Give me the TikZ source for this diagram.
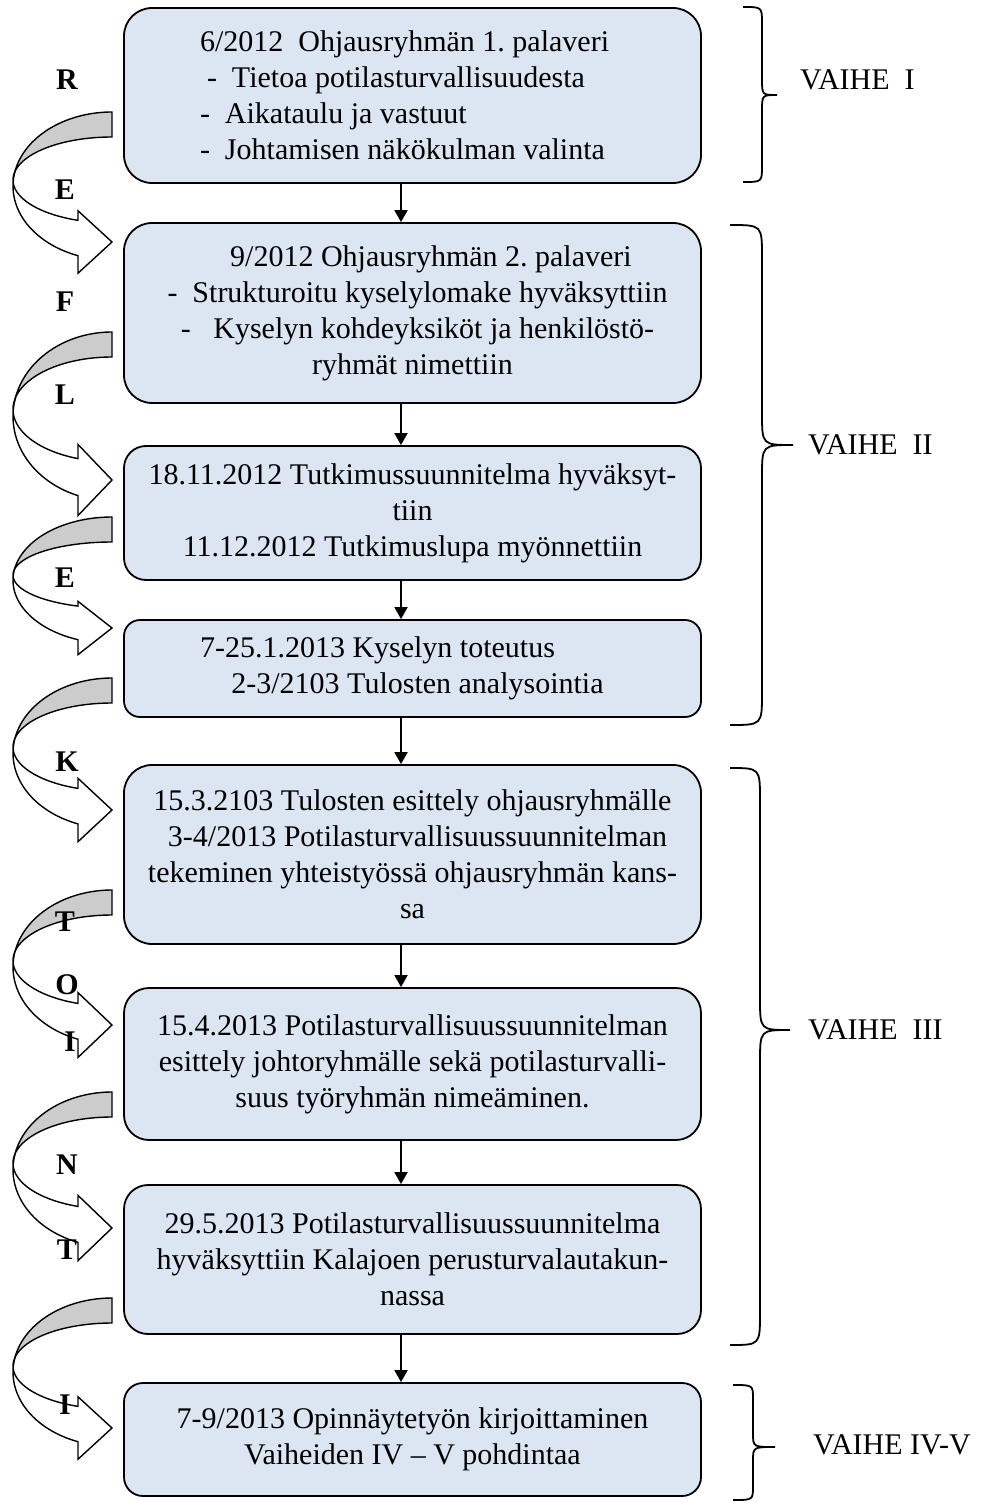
\documentclass[tikz,border=0pt]{standalone}
\usepackage{fontspec}
\setmainfont{Liberation Serif}
\usetikzlibrary{arrows.meta}
\definecolor{boxblue}{HTML}{DCE6F2}
\definecolor{arrgray}{HTML}{CCCCCC}
\newcommand{\curlarrow}[2]{%
 \pgfmathsetmacro\caYa{#1}\pgfmathsetmacro\caH{#2}%
 \pgfmathsetmacro\caRyo{0.57*\caH}%
 \pgfmathsetmacro\caCyo{\caYa+\caRyo}%
 \pgfmathsetmacro\caCyi{\caYa+0.523*\caH}%
 \pgfmathsetmacro\caRyi{\caCyi-\caYa-25}%
 \pgfmathsetmacro\caThc{180-asin((\caCyo-\caCyi)/(\caRyi-\caRyo))}%
 \pgfmathsetmacro\caThe{acos(-34/99)}%
 \pgfmathsetmacro\caHt{\caYa+0.76*\caH}%
 \pgfmathsetmacro\caHb{\caYa+1.24*\caH}%
 \pgfmathsetmacro\caTp{\caYa+\caH}%
 \filldraw[arrback] plot[domain=270:\caThc,samples=40] ({112+99*cos(\x)},{\caCyo+\caRyo*sin(\x)})
   -- plot[domain=\caThc:270,samples=40] ({112+99*cos(\x)},{\caCyi+\caRyi*sin(\x)}) -- cycle;
 \filldraw[arrfront] plot[domain=\caThc:\caThe,samples=40] ({112+99*cos(\x)},{\caCyo+\caRyo*sin(\x)})
   -- (78,\caHb) -- (112,\caTp) -- (78,\caHt)
   -- plot[domain=\caThe:\caThc,samples=40] ({112+99*cos(\x)},{\caCyi+\caRyi*sin(\x)}) -- cycle;
}
\newcommand{\mybrace}[7]{% top bottom xleft xvert xtip ytip r
 \draw[bracestyle] (#3,#1) .. controls (#4,#1) .. (#4,#1+#7) -- (#4,#6-#7)
   .. controls (#4,#6) .. (#5,#6) .. controls (#4,#6) .. (#4,#6+#7)
   -- (#4,#2-#7) .. controls (#4,#2) .. (#3,#2);
}
\begin{document}
\frenchspacing
\begin{tikzpicture}[x=1pt,y=-1pt,
  every node/.style={font=\fontsize{30}{36}\selectfont\frenchspacing, inner sep=0pt},
  box/.style={draw, fill=boxblue, line width=1.8pt, minimum width=577pt, align=center},
  conn/.style={line width=1.8pt, -{Triangle[length=12pt,width=13pt]}},
  arrback/.style={fill=arrgray, draw=black, line width=1.4pt},
  arrfront/.style={fill=white, draw=black, line width=1.4pt},
  bracestyle/.style={draw=black, line width=1.8pt},
  letter/.style={font=\fontsize{30}{36}\selectfont\bfseries},
  phase/.style={anchor=west}]
\useasboundingbox (0,0) rectangle (995,1503);
\fill[white] (0,0) rectangle (995,1503);

\node[box, minimum height=175pt, rounded corners=28pt, align=left, text width=425pt] (b1) at (412.5,95.5)
 {\spaceskip=0pt\xspaceskip=0pt 6/2012\ \ Ohjausryhmän 1. palaveri\\
  \hspace*{7pt}-\ \ Tietoa potilasturvallisuudesta\\
  -\ \ Aikataulu ja vastuut\\
  -\ \ Johtamisen näkökulman valinta};
\node[box, minimum height=180pt, rounded corners=28pt] (b2) at (412.5,313)
 {\hspace*{37pt}9/2012 Ohjausryhmän 2. palaveri\\
  \hspace*{10pt}-\ \ Strukturoitu kyselylomake hyväksyttiin\\
  \hspace*{10pt}-\ \ \ Kyselyn kohdeyksiköt ja henkilöstö-\\
  ryhmät nimettiin};
\node[box, minimum height=134pt, rounded corners=22pt] (b3) at (412.5,513)
 {18.11.2012 Tutkimussuunnitelma hyväksyt-\\ tiin\\ 11.12.2012 Tutkimuslupa myönnettiin};
\node[box, minimum height=97pt, rounded corners=16pt] (b4) at (412.5,668.5)
 {\hspace*{-70pt}7-25.1.2013 Kyselyn toteutus\\ \hspace*{10pt}2-3/2103 Tulosten analysointia};
\node[box, minimum height=179pt, rounded corners=28pt] (b5) at (412.5,854.5)
 {15.3.2103 Tulosten esittely ohjausryhmälle\\
  \hspace*{10pt}3-4/2013 Potilasturvallisuussuunnitelman\\
  tekeminen yhteistyössä ohjausryhmän kans-\\ sa};
\node[box, minimum height=152pt, rounded corners=25pt] (b6) at (412.5,1064)
 {15.4.2013 Potilasturvallisuussuunnitelman\\
  esittely johtoryhmälle sekä potilasturvalli-\\
  suus työryhmän nimeäminen.};
\node[box, minimum height=149pt, rounded corners=24pt] (b7) at (412.5,1259.5)
 {29.5.2013 Potilasturvallisuussuunnitelma\\
  hyväksyttiin Kalajoen perusturvalautakun-\\ nassa};
\node[box, minimum height=113pt, rounded corners=19pt] (b8) at (412.5,1439.5)
 {7-9/2013 Opinnäytetyön kirjoittaminen\\ Vaiheiden IV – V pohdintaa};

\coordinate (ax) at (401,0);
\draw[conn] (b1.south -| ax) -- (b2.north -| ax);
\draw[conn] (b2.south -| ax) -- (b3.north -| ax);
\draw[conn] (b3.south -| ax) -- (b4.north -| ax);
\draw[conn] (b4.south -| ax) -- (b5.north -| ax);
\draw[conn] (b5.south -| ax) -- (b6.north -| ax);
\draw[conn] (b6.south -| ax) -- (b7.north -| ax);
\draw[conn] (b7.south -| ax) -- (b8.north -| ax);

\mybrace{7}{182}{743}{762}{777}{95}{16}
\mybrace{225}{725}{730}{762}{793}{445}{32}
\mybrace{768}{1345}{730}{760}{790}{1030}{32}
\mybrace{1385}{1500}{733}{753}{775}{1447}{14}

\node[phase] (p1) at (800,80) {VAIHE\ \ I};
\node[phase] (p2) at (808,445) {VAIHE\ \ II};
\node[phase] (p3) at (808,1030) {VAIHE\ \ III};
\node[phase] (p4) at (813,1445) {VAIHE IV-V};

\curlarrow{112}{130}
\curlarrow{332}{148}
\curlarrow{517}{111}
\curlarrow{678}{132}
\curlarrow{890}{135}
\curlarrow{1092}{136}
\curlarrow{1298}{130}

\node[letter] (l1) at (67,80) {R};
\node[letter] (l2) at (65,190) {E};
\node[letter] (l3) at (65,302) {F};
\node[letter] (l4) at (65,395) {L};
\node[letter] (l5) at (65,578) {E};
\node[letter] (l6) at (67,762) {K};
\node[letter] (l7) at (65,922) {T};
\node[letter] (l8) at (67,985) {O};
\node[letter] (l9) at (70,1042) {I};
\node[letter] (l10) at (67,1165) {N};
\node[letter] (l11) at (67,1250) {T};
\node[letter] (l12) at (65,1405) {I};
\end{tikzpicture}
\end{document}
